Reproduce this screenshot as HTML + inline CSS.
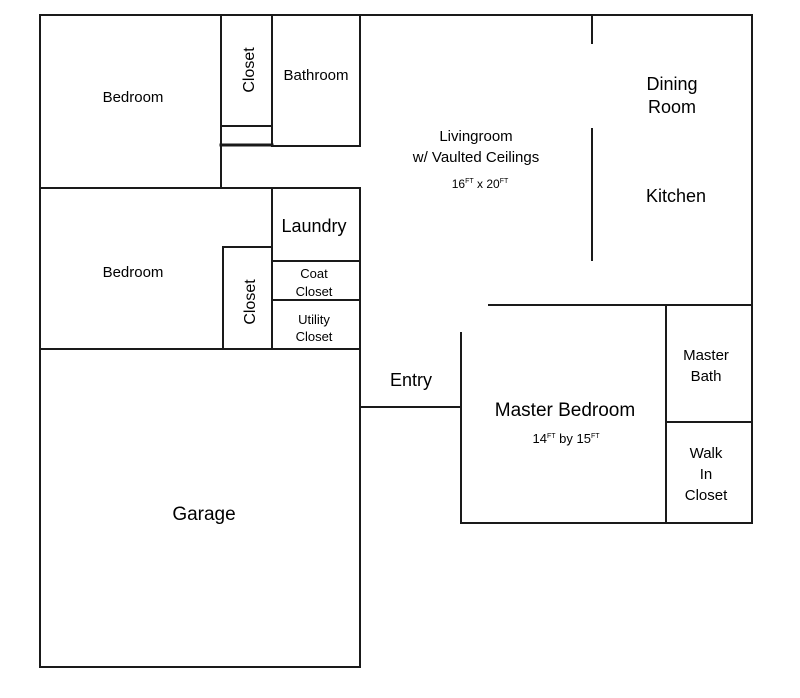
<!DOCTYPE html>
<html><head><meta charset="utf-8"><style>html,body{margin:0;padding:0;background:#fff}svg{display:block}</style></head>
<body>
<svg width="800" height="698" viewBox="0 0 800 698" xmlns="http://www.w3.org/2000/svg" font-family="Liberation Sans, Arial, sans-serif" fill="#000">
<g stroke="#1a1a1a" stroke-width="2" fill="none" stroke-linecap="square">
<line x1="40" y1="15" x2="752" y2="15"/>
<line x1="40" y1="15" x2="40" y2="667"/>
<line x1="752" y1="15" x2="752" y2="523"/>
<line x1="221" y1="15" x2="221" y2="188"/>
<line x1="272" y1="15" x2="272" y2="145"/>
<rect x="221" y="126" width="51" height="19"/>
<line x1="221" y1="145" x2="272" y2="145" stroke-width="3"/>
<line x1="272" y1="146" x2="360" y2="146"/>
<line x1="360" y1="15" x2="360" y2="146"/>
<line x1="40" y1="188" x2="360" y2="188"/>
<line x1="360" y1="188" x2="360" y2="667"/>
<line x1="272" y1="188" x2="272" y2="349"/>
<line x1="272" y1="261" x2="360" y2="261"/>
<line x1="272" y1="300" x2="360" y2="300"/>
<line x1="223" y1="247" x2="272" y2="247"/>
<line x1="223" y1="247" x2="223" y2="349"/>
<line x1="40" y1="349" x2="360" y2="349"/>
<line x1="40" y1="667" x2="360" y2="667"/>
<line x1="360" y1="407" x2="461" y2="407"/>
<line x1="461" y1="333" x2="461" y2="523"/>
<line x1="461" y1="523" x2="752" y2="523"/>
<line x1="489" y1="305" x2="752" y2="305"/>
<line x1="666" y1="305" x2="666" y2="523"/>
<line x1="666" y1="422" x2="752" y2="422"/>
<line x1="592" y1="15" x2="592" y2="43"/>
<line x1="592" y1="129" x2="592" y2="260"/>
</g>
<g text-anchor="middle">
<text x="133" y="102" font-size="15">Bedroom</text>
<text x="133" y="277" font-size="15">Bedroom</text>
<text x="316" y="80" font-size="15">Bathroom</text>
<text transform="translate(254,70) rotate(-90)" font-size="16">Closet</text>
<text transform="translate(255,302) rotate(-90)" font-size="16">Closet</text>
<text x="314" y="232" font-size="18">Laundry</text>
<text x="314" y="278" font-size="13">Coat</text>
<text x="314" y="296" font-size="13">Closet</text>
<text x="314" y="324" font-size="13">Utility</text>
<text x="314" y="341" font-size="13">Closet</text>
<text x="476" y="141" font-size="15">Livingroom</text>
<text x="476" y="162" font-size="15">w/ Vaulted Ceilings</text>
<text x="480" y="188" font-size="12">16<tspan font-size="7" dy="-5">FT</tspan><tspan dy="5"> x 20</tspan><tspan font-size="7" dy="-5">FT</tspan></text>
<text x="672" y="90" font-size="18">Dining</text>
<text x="672" y="113" font-size="18">Room</text>
<text x="676" y="202" font-size="18">Kitchen</text>
<text x="411" y="386" font-size="18">Entry</text>
<text x="565" y="416" font-size="19">Master Bedroom</text>
<text x="566" y="443" font-size="13">14<tspan font-size="7" dy="-5">FT</tspan><tspan dy="5"> by 15</tspan><tspan font-size="7" dy="-5">FT</tspan></text>
<text x="706" y="360" font-size="15">Master</text>
<text x="706" y="381" font-size="15">Bath</text>
<text x="706" y="458" font-size="15">Walk</text>
<text x="706" y="479" font-size="15">In</text>
<text x="706" y="500" font-size="15">Closet</text>
<text x="204" y="520" font-size="19">Garage</text>
</g>
</svg>
</body></html>
